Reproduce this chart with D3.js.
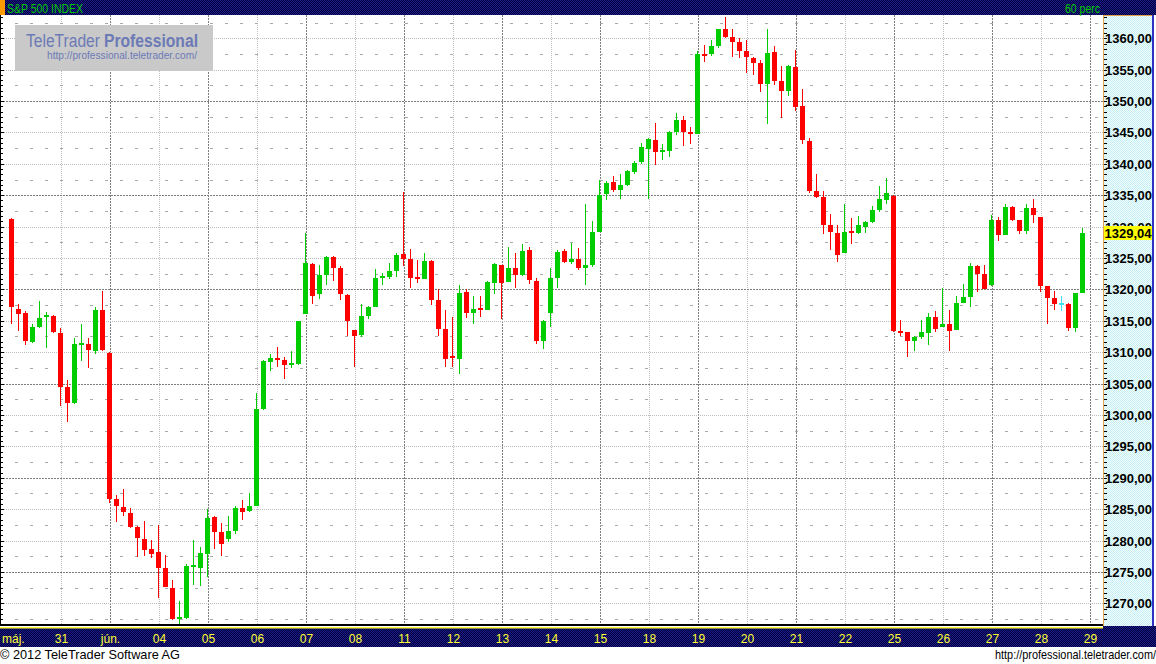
<!DOCTYPE html>
<html><head><meta charset="utf-8">
<script src="https://cdn.jsdelivr.net/npm/d3@7"></script>
<style>
html,body{margin:0;padding:0;background:#fff;overflow:hidden}
svg{display:block}
text{font-family:"Liberation Sans",Arial,sans-serif}
</style>
</head><body>
<svg id="c" width="1156" height="664"></svg>
<script>
// ---------- DATA ----------
const title = "S&P 500 INDEX";
const intervalLabel = "60 perc";
const dayLabels = ["máj.","31","jún.","04","05","06","07","08","11","12","13","14","15","18","19","20","21","22","25","26","27","28","29"];
const candlesPerDay = 7;
const priceTicks = [1270,1275,1280,1285,1290,1295,1300,1305,1310,1315,1320,1325,1330,1335,1340,1345,1350,1355,1360];
const lastPrice = 1329.04;

const opens = [1331.2,1316.9,1316.24,1311.62,1314.0,1315.7,1315.76,1313.06,1304.45,1301.95,
1311.14,1311.3,1310.19,1316.72,1309.87,1286.6,1285.34,1284.38,1282.15,1280.24,
1278.65,1278.17,1275.62,1272.44,1267.6,1267.71,1275.9,1275.62,1277.85,1283.75,
1281.36,1280.24,1281.52,1285.18,1284.7,1285.5,1300.95,1308.44,1309.07,1308.76,
1308.01,1308.12,1316.13,1324.05,1319.32,1322.34,1325.16,1323.41,1319.11,1313.53,
1312.74,1315.76,1317.25,1321.9,1321.98,1322.93,1325.64,1324.84,1321.85,1321.66,
1324.53,1318.31,1313.69,1309.39,1308.96,1319.59,1316.29,1316.9,1316.72,1321.02,
1323.89,1321.18,1323.41,1322.3,1326.28,1321.34,1311.78,1316.24,1321.87,1326.12,
1324.37,1324.84,1323.41,1323.89,1329.14,1335.2,1337.11,1335.83,1336.63,1338.7,
1340.3,1342.37,1343.8,1341.89,1342.05,1345.07,1346.99,1345.0,1344.75,1357.5,
1357.5,1358.77,1361.48,1360.21,1359.41,1357.98,1356.86,1356.06,1352.72,1357.82,
1353.2,1351.6,1355.43,1349.22,1343.64,1335.68,1334.72,1330.27,1328.99,1325.8,
1329.15,1328.99,1329.94,1330.74,1332.65,1334.24,1334.88,1313.37,1313.2,1311.78,
1312.42,1313.06,1315.6,1314.0,1314.49,1313.53,1317.83,1318.79,1323.73,1322.45,
1320.7,1331.06,1328.67,1333.13,1331.06,1329.3,1332.97,1331.53,1320.54,1318.63,
1317.68,1317.68,1313.85,1319.43];
const highs = [1331.4,1317.7,1316.56,1314.44,1318.15,1316.4,1315.9,1313.85,1305.57,1312.26,
1314.49,1312.26,1317.2,1319.75,1310.0,1287.25,1288.2,1285.13,1282.36,1283.11,
1280.03,1282.47,1277.69,1273.71,1270.37,1276.26,1280.08,1278.97,1284.97,1283.9,
1282.79,1283.91,1285.5,1286.45,1287.57,1303.5,1308.7,1309.71,1310.83,1309.23,
1310.19,1315.0,1328.99,1324.2,1323.89,1325.3,1325.3,1323.73,1319.27,1313.53,
1317.68,1317.36,1323.25,1322.61,1324.21,1325.8,1335.52,1326.44,1324.68,1325.8,
1324.68,1320.06,1316.72,1315.6,1320.7,1320.06,1318.95,1318.95,1321.34,1324.21,
1323.89,1326.76,1325.8,1327.23,1326.76,1321.82,1315.13,1323.41,1326.28,1326.44,
1327.39,1326.6,1333.6,1330.9,1337.43,1337.27,1338.06,1338.38,1339.02,1340.45,
1343.32,1344.12,1346.51,1343.16,1345.23,1348.1,1347.62,1345.87,1357.98,1358.93,
1359.73,1361.48,1363.39,1361.48,1360.05,1359.73,1357.02,1356.54,1361.48,1358.77,
1355.59,1355.75,1358.14,1351.92,1344.12,1338.38,1335.68,1332.01,1330.26,1333.6,
1331.37,1331.69,1330.9,1333.29,1336.47,1337.75,1335.0,1315.13,1313.2,1312.58,
1315.13,1316.24,1316.56,1320.22,1316.72,1318.95,1320.86,1324.21,1323.89,1323.89,
1331.85,1331.53,1333.6,1333.29,1331.06,1333.6,1334.4,1331.6,1320.54,1319.75,
1318.95,1317.8,1319.5,1329.78];
const lows = [1314.5,1313.4,1311.19,1311.46,1313.9,1310.7,1313.06,1301.48,1298.93,1301.75,
1308.6,1307.48,1309.71,1310.19,1286.02,1282.95,1283.95,1282.0,1277.38,1277.53,
1277.26,1270.89,1272.6,1267.34,1266.7,1267.5,1272.92,1272.76,1274.19,1278.65,
1277.53,1279.76,1281.04,1283.27,1284.54,1285.5,1300.8,1307.0,1307.64,1305.73,
1307.53,1307.96,1316.13,1317.72,1318.52,1320.75,1321.39,1318.36,1312.58,1307.64,
1312.47,1315.33,1317.25,1320.75,1321.66,1321.98,1323.73,1320.22,1321.02,1321.66,
1317.52,1312.58,1307.64,1307.64,1306.53,1315.49,1314.54,1315.65,1316.72,1319.27,
1315.29,1321.18,1320.22,1322.14,1320.86,1311.3,1310.51,1314.0,1320.27,1324.21,
1324.05,1323.09,1320.7,1323.57,1329.14,1334.24,1335.52,1334.4,1336.47,1338.38,
1339.98,1334.4,1339.82,1340.61,1341.09,1344.6,1342.84,1343.16,1344.75,1356.22,
1357.18,1358.45,1360.05,1357.02,1356.86,1354.47,1354.15,1351.45,1346.35,1352.56,
1347.3,1350.81,1348.42,1343.16,1335.36,1334.6,1328.87,1326.28,1324.37,1325.8,
1327.23,1328.83,1328.99,1330.58,1332.33,1333.6,1313.2,1312.58,1309.23,1310.19,
1312.1,1311.14,1313.2,1314.0,1310.19,1313.53,1317.83,1317.2,1319.59,1320.06,
1320.54,1327.71,1328.67,1330.9,1328.83,1328.83,1330.58,1319.59,1314.49,1316.72,
1316.56,1313.37,1313.2,1319.43];
const closes = [1317.25,1316.1,1311.83,1314.0,1315.49,1315.8,1313.26,1304.5,1301.95,1311.3,
1311.46,1310.35,1316.72,1310.35,1286.66,1285.55,1284.59,1282.15,1280.45,1278.49,
1277.9,1275.62,1272.64,1267.55,1267.75,1275.94,1276.0,1278.01,1283.59,1281.36,
1279.45,1281.52,1285.18,1284.54,1285.5,1300.95,1308.6,1309.07,1308.76,1308.01,
1308.27,1314.97,1324.21,1319.0,1322.3,1325.16,1323.46,1319.32,1315.02,1312.63,
1315.76,1317.2,1321.82,1322.1,1322.93,1325.48,1324.84,1321.82,1321.75,1324.53,
1318.31,1313.74,1308.96,1309.07,1319.43,1316.29,1316.88,1316.75,1321.18,1324.05,
1321.02,1323.41,1322.3,1326.12,1321.5,1311.78,1314.97,1321.82,1325.96,1324.37,
1324.84,1323.41,1323.89,1329.14,1335.04,1336.95,1335.83,1336.63,1338.86,1340.14,
1342.68,1343.96,1341.89,1342.25,1345.07,1346.99,1345.07,1344.85,1357.5,1357.3,
1358.77,1361.48,1360.21,1359.41,1357.98,1357.02,1356.06,1352.72,1357.66,1353.2,
1351.6,1355.59,1349.06,1343.8,1335.68,1334.72,1330.31,1329.14,1325.48,1329.14,
1329.0,1330.26,1330.74,1332.65,1334.4,1335.36,1313.37,1313.06,1311.78,1312.42,
1313.2,1315.6,1313.69,1314.49,1313.37,1317.83,1318.79,1323.73,1322.45,1320.06,
1331.06,1328.67,1333.13,1331.06,1329.3,1332.97,1331.85,1320.54,1318.63,1317.68,
1317.68,1313.85,1319.43,1329.04];

// ---------- LAYOUT ----------
const plotR = 1103, plotT = 15, plotB = 625;
const svg = d3.select("#c");
const x = d3.scaleLinear().domain([0, 1]).range([11.5, 18.5]);
const y = d3.scaleLinear().domain([1270, 1360]).range([603.3, 38.3]);
const fmt = v => d3.format(".2f")(v).replace(".", ",");

// patterns
const defs = svg.append("defs");
function dither(id, base, dot) {
  const p = defs.append("pattern").attr("id", id).attr("width", 2).attr("height", 2)
    .attr("patternUnits", "userSpaceOnUse");
  p.append("rect").attr("width", 2).attr("height", 2).attr("fill", base);
  p.append("rect").attr("x", 0).attr("y", 0).attr("width", 1).attr("height", 1).attr("fill", dot);
  p.append("rect").attr("x", 1).attr("y", 1).attr("width", 1).attr("height", 1).attr("fill", dot);
}
dither("navy", "#00003f", "#1c1c86");
dither("cyan", "#f2ffff", "#c6eef2");

svg.append("rect").attr("width", 1156).attr("height", 664).attr("fill", "#fff");

// ---------- GRID ----------
const grid = svg.append("g").attr("shape-rendering", "crispEdges");
d3.range(1, dayLabels.length).forEach(d => {
  const gx = x(d * candlesPerDay) + 1;
  const dark = d % 2 === 0;
  grid.append("line").attr("x1", gx).attr("x2", gx).attr("y1", plotT).attr("y2", plotB)
    .attr("stroke", dark ? "#7d7d7d" : "#bdbdbd")
    .attr("stroke-dasharray", dark ? "2,1" : "1,1");
});
priceTicks.forEach(v => {
  const gy = Math.round(y(v)) + 0.5;
  const dark = (v - 1260) % 15 === 0;
  grid.append("line").attr("x1", 0).attr("x2", plotR).attr("y1", gy).attr("y2", gy)
    .attr("stroke", dark ? "#7d7d7d" : "#bdbdbd")
    .attr("stroke-dasharray", dark ? "2,1" : "1,1");
});
[1267.5].concat(priceTicks.map(v => v + 2.5)).forEach(v => {
  const gy = Math.round(y(v)) + 0.5;
  if (gy < plotT + 2 || gy > plotB - 2) return;
  grid.append("line").attr("x1", 15).attr("x2", plotR).attr("y1", gy).attr("y2", gy)
    .attr("stroke", "#a9a9a9").attr("stroke-dasharray", "3,12");
});

// ---------- LOGO ----------
svg.append("rect").attr("x", 15).attr("y", 25).attr("width", 198).attr("height", 46).attr("fill", "#c9c9c9");
svg.append("text").attr("x", 26).attr("y", 47).attr("font-size", 18).attr("fill", "#6c7ab6")
  .attr("textLength", 74).attr("lengthAdjust", "spacingAndGlyphs").text("TeleTrader");
svg.append("text").attr("x", 104).attr("y", 47).attr("font-size", 18).attr("font-weight", "bold").attr("fill", "#6c7ab6")
  .attr("textLength", 94).attr("lengthAdjust", "spacingAndGlyphs").text("Professional");
svg.append("text").attr("x", 47).attr("y", 59).attr("font-size", 11).attr("fill", "#6c7ab6")
  .attr("textLength", 150).attr("lengthAdjust", "spacingAndGlyphs").text("http://professional.teletrader.com/");

// ---------- CANDLES ----------
const data = opens.map((o, i) => ({ i, o, h: highs[i], l: lows[i], c: closes[i] }));
const colorOf = d => d.c > d.o ? "#00cc00" : (d.c < d.o ? "#ff0000" : "#3fe0f0");
const cg = svg.append("g").attr("shape-rendering", "crispEdges");
cg.selectAll("rect.wick").data(data).join("rect").attr("class", "wick")
  .attr("x", d => x(d.i) - 0.5).attr("width", 1)
  .attr("y", d => Math.round(y(d.h)))
  .attr("height", d => Math.max(1, Math.round(y(d.l)) - Math.round(y(d.h))))
  .attr("fill", colorOf);
cg.selectAll("rect.body").data(data).join("rect").attr("class", "body")
  .attr("x", d => x(d.i) - 2.5).attr("width", 5)
  .each(function (d) {
    let top = Math.round(y(Math.max(d.o, d.c)));
    let bot = Math.round(y(Math.min(d.o, d.c)));
    if (bot - top < 2) { top = Math.round((y(d.o) + y(d.c)) / 2) - 1; bot = top + 2; }
    d3.select(this).attr("y", top).attr("height", bot - top);
  })
  .attr("fill", colorOf);

// ---------- LEFT EDGE TICKS ----------
const lt = svg.append("g").attr("shape-rendering", "crispEdges");
lt.append("rect").attr("x", 0).attr("y", plotT).attr("width", 1).attr("height", plotB - plotT).attr("fill", "#000");
const subTicks = d3.range(-6, 120).map(k => 1265 + k * 5 / 6).filter(v => y(v) > plotT + 1 && y(v) < plotB - 1);
subTicks.forEach((v, k) => {
  const major = Math.abs((v - 1265) / 5 - Math.round((v - 1265) / 5)) < 1e-6;
  lt.append("rect").attr("x", 0).attr("y", Math.round(y(v))).attr("width", major ? 4 : 3).attr("height", 1).attr("fill", "#000");
});

// ---------- RIGHT AXIS PANEL ----------
svg.append("rect").attr("x", plotR).attr("y", plotT).attr("width", 49).attr("height", 611).attr("fill", "url(#cyan)");
svg.append("rect").attr("x", plotR).attr("y", plotT).attr("width", 1).attr("height", 611).attr("fill", "#e4a24a");
svg.append("rect").attr("x", plotR).attr("y", plotT).attr("width", 49).attr("height", 1).attr("fill", "#e4a24a");
svg.append("rect").attr("x", 1152).attr("y", plotT).attr("width", 2).attr("height", 613).attr("fill", "#2f2fc4");
const rt = svg.append("g").attr("shape-rendering", "crispEdges");
subTicks.forEach(v => {
  rt.append("rect").attr("x", 1104).attr("y", Math.round(y(v))).attr("width", 3).attr("height", 1).attr("fill", "#000");
});
svg.append("g").selectAll("text").data(priceTicks).join("text")
  .attr("x", 1152).attr("y", v => Math.round(y(v)) + 5)
  .attr("text-anchor", "end").attr("font-size", 13).attr("font-weight", "bold").attr("fill", "#000")
  .text(fmt);
svg.append("rect").attr("x", 1104).attr("y", Math.round(y(lastPrice)) - 7).attr("width", 48).attr("height", 14).attr("fill", "#ffff00");
svg.append("text").attr("x", 1151.5).attr("y", Math.round(y(lastPrice)) + 5)
  .attr("text-anchor", "end").attr("font-size", 13).attr("font-weight", "bold").attr("fill", "#000")
  .text(fmt(lastPrice));

// ---------- HEADER ----------
svg.append("rect").attr("x", 0).attr("y", 0).attr("width", 1156).attr("height", 15).attr("fill", "url(#navy)");
svg.append("rect").attr("x", 0).attr("y", 0).attr("width", 5).attr("height", 15).attr("fill", "#ff9a00");
svg.append("text").attr("x", 7).attr("y", 12.5).attr("font-size", 13).attr("fill", "#00c800")
  .attr("textLength", 76).attr("lengthAdjust", "spacingAndGlyphs").text(title);
svg.append("text").attr("x", 1100).attr("y", 12.5).attr("font-size", 13).attr("fill", "#00c800")
  .attr("text-anchor", "end").attr("textLength", 35).attr("lengthAdjust", "spacingAndGlyphs").text(intervalLabel);

// ---------- BOTTOM AXIS ----------
svg.append("rect").attr("x", 0).attr("y", 624).attr("width", plotR).attr("height", 2).attr("fill", "#000");
svg.append("rect").attr("x", 0).attr("y", 626).attr("width", plotR).attr("height", 1).attr("fill", "#fff");
svg.append("rect").attr("x", 0).attr("y", 628).attr("width", 1156).attr("height", 19).attr("fill", "url(#navy)");
svg.append("rect").attr("x", plotR).attr("y", 626).attr("width", 53).attr("height", 3).attr("fill", "url(#navy)");
svg.append("rect").attr("x", 0).attr("y", 627).attr("width", plotR).attr("height", 1.5).attr("fill", "#ffff33");
svg.append("g").selectAll("text").data(dayLabels).join("text")
  .attr("x", (d, i) => i === 0 ? 2 : x(i * candlesPerDay) + 1)
  .attr("text-anchor", (d, i) => i === 0 ? "start" : "middle")
  .attr("y", 643).attr("font-size", 12).attr("fill", "#ffff33")
  .text(d => d);

// ---------- FOOTER ----------
svg.append("text").attr("x", 0).attr("y", 659).attr("font-size", 13).attr("fill", "#000")
  .attr("textLength", 180).attr("lengthAdjust", "spacingAndGlyphs").text("© 2012 TeleTrader Software AG");
svg.append("text").attr("x", 1156).attr("y", 659).attr("font-size", 13).attr("fill", "#000")
  .attr("text-anchor", "end").attr("textLength", 161).attr("lengthAdjust", "spacingAndGlyphs")
  .text("http://professional.teletrader.com/");
</script>
</body></html>
